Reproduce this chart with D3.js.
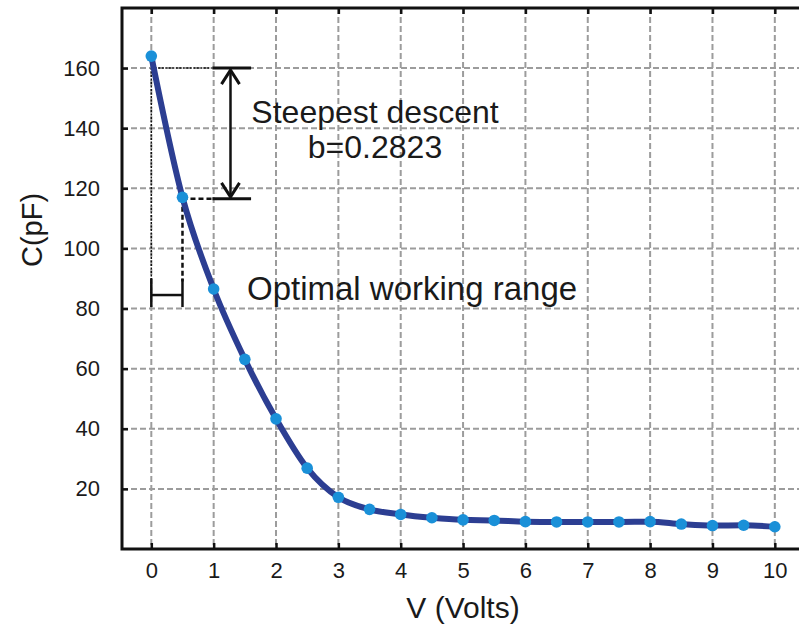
<!DOCTYPE html>
<html>
<head>
<meta charset="utf-8">
<script src="https://cdn.jsdelivr.net/npm/d3@7"></script>
<style>
  html, body { margin: 0; padding: 0; background: #fff; }
  svg { display: block; }
  text { font-family: "Liberation Sans", Arial, Helvetica, sans-serif; fill: #1a1a1a; }
</style>
</head>
<body>
<svg id="chart" width="799" height="629"></svg>
<script>
// ---- data ----
const volts = [0, 0.5, 1, 1.5, 2, 2.5, 3, 3.5, 4, 4.5, 5, 5.5, 6, 6.5, 7, 7.5, 8, 8.5, 9, 9.5, 10];
const capacitance = [164, 117, 86.5, 63.1, 43.3, 26.9, 17.2, 13.2, 11.5, 10.4, 9.7, 9.5, 9.1, 9.0, 9.0, 9.0, 9.1, 8.3, 7.8, 7.9, 7.4];
const xTicks = [0, 1, 2, 3, 4, 5, 6, 7, 8, 9, 10];
const yTicks = [20, 40, 60, 80, 100, 120, 140, 160];
const xTitle = "V (Volts)";
const yTitle = "C(pF)";
const noteTitle = "Steepest descent";
const noteValue = "b=0.2823";
const rangeLabel = "Optimal working range";

// ---- layout ----
const svg = d3.select("#chart");
const pLeft = 122, pTop = 8, pBottom = 549, pRight = 806;
const x = d3.scaleLinear().domain([-0.47, 10.5]).range([pLeft, pRight]);
const y = d3.scaleLinear().domain([0, 180]).range([pBottom, pTop]);

svg.append("rect").attr("width", 799).attr("height", 629).attr("fill", "#fff");

// grid
const grid = svg.append("g").attr("stroke", "#9c9c9c").attr("stroke-width", 2).attr("stroke-dasharray", "6,3");
grid.selectAll(".vg").data(xTicks).join("line")
  .attr("x1", d => x(d)).attr("x2", d => x(d)).attr("y1", pTop).attr("y2", pBottom);
grid.selectAll(".hg").data(yTicks).join("line")
  .attr("x1", pLeft).attr("x2", pRight).attr("y1", d => y(d)).attr("y2", d => y(d));

// axes (inward ticks, MATLAB style)
const xAxis = d3.axisBottom(x).tickValues(xTicks).tickSize(-6).tickPadding(13).tickFormat(d3.format("d"));
const gx = svg.append("g").attr("transform", `translate(0,${pBottom})`).call(xAxis);
gx.select(".domain").remove();
gx.selectAll(".tick line").attr("stroke", "#111").attr("stroke-width", 2.5);
gx.selectAll(".tick text").attr("font-size", 22).attr("fill", "#1a1a1a")
  .attr("font-family", "'Liberation Sans', Arial, sans-serif");

const xAxisTop = d3.axisTop(x).tickValues(xTicks).tickSize(-6).tickFormat("");
const gxt = svg.append("g").attr("transform", `translate(0,${pTop})`).call(xAxisTop);
gxt.select(".domain").remove();
gxt.selectAll(".tick line").attr("stroke", "#111").attr("stroke-width", 2.5);

const yAxis = d3.axisLeft(y).tickValues(yTicks).tickSize(-6).tickPadding(22).tickFormat(d3.format("d"));
const gy = svg.append("g").attr("transform", `translate(${pLeft},0)`).call(yAxis);
gy.select(".domain").remove();
gy.selectAll(".tick line").attr("stroke", "#111").attr("stroke-width", 2.5);
gy.selectAll(".tick text").attr("font-size", 22).attr("fill", "#1a1a1a")
  .attr("font-family", "'Liberation Sans', Arial, sans-serif");

// frame
svg.append("path")
  .attr("d", `M${pRight + 10},${pTop}H${pLeft}V${pBottom}H${pRight + 10}`)
  .attr("fill", "none").attr("stroke", "#111").attr("stroke-width", 3);

// annotations
const ann = svg.append("g").attr("fill", "none").attr("stroke", "#111");
ann.append("line").attr("x1", x(0)).attr("x2", x(0.97)).attr("y1", y(160)).attr("y2", y(160))
  .attr("stroke-width", 1.5).attr("stroke-dasharray", "2,1.5");
ann.append("line").attr("x1", x(0)).attr("x2", x(0)).attr("y1", y(160)).attr("y2", y(85))
  .attr("stroke-width", 1.5).attr("stroke-dasharray", "2,1.5");
ann.append("line").attr("x1", x(0.5)).attr("x2", x(0.97)).attr("y1", y(116.5)).attr("y2", y(116.5))
  .attr("stroke-width", 2.5).attr("stroke-dasharray", "5,3");
ann.append("line").attr("x1", x(0.5)).attr("x2", x(0.5)).attr("y1", y(116.5)).attr("y2", y(89))
  .attr("stroke-width", 2.5).attr("stroke-dasharray", "5,3");
ann.append("line").attr("x1", x(0.98)).attr("x2", x(1.6)).attr("y1", y(160)).attr("y2", y(160)).attr("stroke-width", 3);
ann.append("line").attr("x1", x(0.98)).attr("x2", x(1.6)).attr("y1", y(116.5)).attr("y2", y(116.5)).attr("stroke-width", 3);
const ax = x(1.27), ay1 = y(160) + 2, ay2 = y(116.5) - 2;
ann.append("line").attr("x1", ax).attr("x2", ax).attr("y1", ay1).attr("y2", ay2).attr("stroke-width", 2.5);
ann.append("path").attr("d", `M${ax - 9},${ay1 + 14}L${ax},${ay1}L${ax + 9},${ay1 + 14}`).attr("stroke-width", 3);
ann.append("path").attr("d", `M${ax - 9},${ay2 - 14}L${ax},${ay2}L${ax + 9},${ay2 - 14}`).attr("stroke-width", 3);
ann.append("line").attr("x1", x(0)).attr("x2", x(0)).attr("y1", y(90)).attr("y2", y(80.5)).attr("stroke-width", 2.5);
ann.append("line").attr("x1", x(0.5)).attr("x2", x(0.5)).attr("y1", y(90)).attr("y2", y(80.5)).attr("stroke-width", 2.5);
ann.append("line").attr("x1", x(0)).attr("x2", x(0.5)).attr("y1", y(84.5)).attr("y2", y(84.5)).attr("stroke-width", 2.5);

// data line
const line = d3.line().x((d, i) => x(volts[i])).y(d => y(d)).curve(d3.curveMonotoneX);
svg.append("path").datum(capacitance).attr("d", line)
  .attr("fill", "none").attr("stroke", "#2c3e92").attr("stroke-width", 6).attr("stroke-linejoin", "round");
svg.append("g").selectAll("circle").data(capacitance).join("circle")
  .attr("cx", (d, i) => x(volts[i])).attr("cy", d => y(d)).attr("r", 5.8).attr("fill", "#1a90d8");

// texts
svg.append("text").attr("x", 375).attr("y", 123).attr("text-anchor", "middle").attr("font-size", 32).text(noteTitle);
svg.append("text").attr("x", 375).attr("y", 158).attr("text-anchor", "middle").attr("font-size", 32).text(noteValue);
svg.append("text").attr("x", 247).attr("y", 300).attr("font-size", 33).text(rangeLabel);

svg.append("text").attr("x", 463).attr("y", 618).attr("text-anchor", "middle").attr("font-size", 30).text(xTitle);
svg.append("text").attr("transform", "translate(42,230) rotate(-90)").attr("text-anchor", "middle").attr("font-size", 29).text(yTitle);
</script>
</body>
</html>
